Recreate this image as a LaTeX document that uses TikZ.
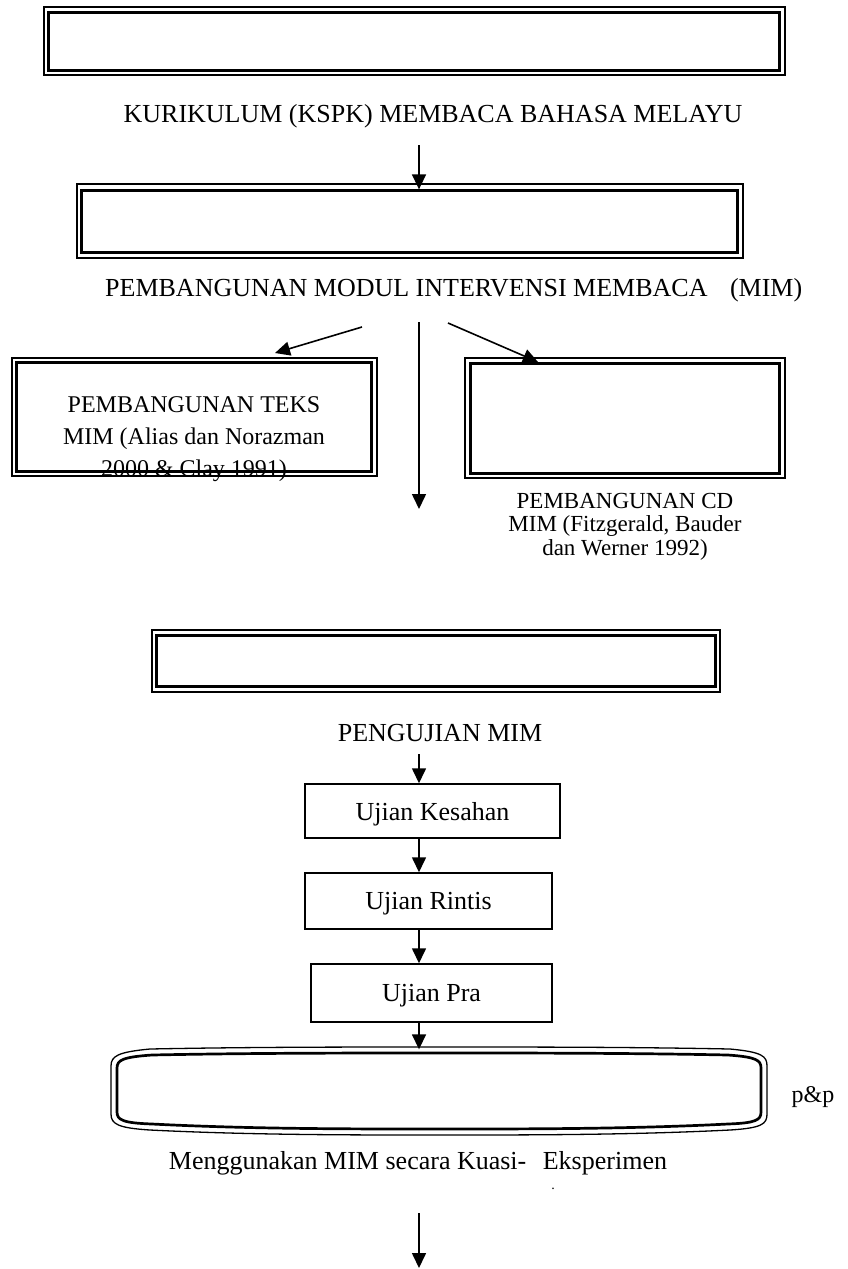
\documentclass[tikz,border=0pt]{standalone}
\usepackage{fontspec}
\setmainfont{Liberation Serif}
\usetikzlibrary{arrows.meta}
\begin{document}
\begin{tikzpicture}[x=1pt,y=-1pt,
  obox/.style={draw, line width=1.3pt, inner sep=0},
  ibox/.style={draw, line width=2.7pt},
  sbox/.style={draw, line width=1.5pt, inner sep=0, text depth=0pt, font=\fontsize{26}{30}\selectfont},
  arr/.style={line width=1.6pt, -{Triangle[width=14pt,length=15pt]}},
  big/.style={inner sep=0, font=\fontsize{26}{30}\selectfont},
  small/.style={inner sep=0, align=center, font=\fontsize{24}{32}\selectfont},
  cdtext/.style={inner sep=0, align=center, font=\fontsize{23}{23.5}\selectfont},
]
\useasboundingbox (0,0) rectangle (848,1269);
\coordinate (ax) at (419,0);

% box 1
\node[obox, minimum width=741pt, minimum height=68pt] (b1) at (414.5,41) {};
\draw[ibox] ([shift={(5,6)}]b1.north west) rectangle ([shift={(-6,-5)}]b1.south east);
\node[big] (t1) at (433,116) {KURIKULUM (KSPK) MEMBACA BAHASA MELAYU};

% box 2
\node[obox, minimum width=666pt, minimum height=74pt] (b2) at (410,221) {};
\draw[ibox] ([shift={(5,7)}]b2.north west) rectangle ([shift={(-6,-6)}]b2.south east);
\coordinate (a1) at (419,145);
\draw[arr, shorten >=-6pt] (a1) -- (a1 |- b2.north);
\node[big, anchor=west] (t2) at (105,290) {PEMBANGUNAN MODUL INTERVENSI MEMBACA\hspace{16pt} (MIM)};

% left box
\node[obox, minimum width=365pt, minimum height=118pt] (lb) at (194.5,417) {};
\draw[ibox] ([shift={(5,5)}]lb.north west) rectangle ([shift={(-6,-5)}]lb.south east);
\node[small, anchor=north] (ltx) at (194,396) {PEMBANGUNAN TEKS\\MIM (Alias dan Norazman\\2000 \& Clay 1991)};

% right box
\node[obox, minimum width=320pt, minimum height=120pt] (rb) at (625,418) {};
\draw[ibox] ([shift={(6,6)}]rb.north west) rectangle ([shift={(-6,-5)}]rb.south east);
\node[cdtext, anchor=north] (rtx) at (625,493) {PEMBANGUNAN CD\\MIM (Fitzgerald, Bauder\\dan Werner 1992)};

% branching arrows
\coordinate (la) at (362,327); \coordinate (lz) at (275,353);
\coordinate (ra) at (448,323); \coordinate (rz) at (538,362);
\coordinate (ma) at (419,322); \coordinate (mz) at (419,509);
\draw[arr] (la) -- (lz);
\draw[arr] (ra) -- (rz);
\draw[arr] (ma) -- (mz);

% box 3
\node[obox, minimum width=568pt, minimum height=62pt] (b3) at (436,661) {};
\draw[ibox] ([shift={(5,6)}]b3.north west) rectangle ([shift={(-5,-6)}]b3.south east);
\node[big] (t3) at (440,733) {PENGUJIAN MIM};

% test boxes
\node[sbox, minimum width=255pt, minimum height=54pt] (kes) at (432.5,811) {Ujian Kesahan};
\node[sbox, minimum width=247pt, minimum height=56pt] (rin) at (428.5,901) {Ujian Rintis};
\node[sbox, minimum width=241pt, minimum height=58pt] (pra) at (431.5,993) {Ujian Pra};
\coordinate (a3) at (419,754);
\draw[arr] (a3) -- (a3 |- kes.north);
\draw[arr] (kes.south -| ax) -- (rin.north -| ax);
\draw[arr] (rin.south -| ax) -- (pra.north -| ax);

% p&p box
\node[minimum width=656pt, minimum height=89pt, inner sep=0] (pp) at (439,1091) {};
\draw[line width=1.3pt] (111,1066) -- (111,1114) .. controls (111,1124) and (118,1128) .. (150,1130) .. controls (250,1135) and (350,1135) .. (439,1135) .. controls (530,1135) and (630,1135) .. (730,1130) .. controls (762,1128) and (767,1124) .. (767,1114) -- (767,1066) .. controls (767,1056) and (762,1052) .. (730,1049) .. controls (630,1047) and (530,1047) .. (439,1047) .. controls (350,1047) and (250,1047) .. (150,1049) .. controls (118,1052) and (111,1056) .. (111,1066) -- cycle;
\draw[line width=2.7pt] (117,1068) -- (117,1112) .. controls (117,1120) and (123,1123) .. (152,1124) .. controls (250,1129) and (350,1129) .. (439,1129) .. controls (530,1129) and (630,1129) .. (728,1124) .. controls (756,1123) and (761,1120) .. (761,1112) -- (761,1068) .. controls (761,1060) and (756,1057) .. (728,1055) .. controls (630,1053) and (530,1053) .. (439,1053) .. controls (350,1053) and (250,1053) .. (152,1055) .. controls (123,1057) and (117,1060) .. (117,1068) -- cycle;
\draw[arr, shorten >=-3pt] (pra.south -| ax) -- (pp.north -| ax);
\node[inner sep=0, font=\fontsize{24}{28}\selectfont] (ppt) at (813,1097) {p\&p};

\node[big] (t4) at (418,1163) {Menggunakan MIM secara Kuasi-\hspace{10pt} Eksperimen};
\node[inner sep=0, font=\fontsize{14}{16}\selectfont] (dot) at (553,1189) {.};
\coordinate (fa) at (419,1213); \coordinate (fz) at (419,1268);
\draw[arr] (fa) -- (fz);
\end{tikzpicture}
\end{document}
